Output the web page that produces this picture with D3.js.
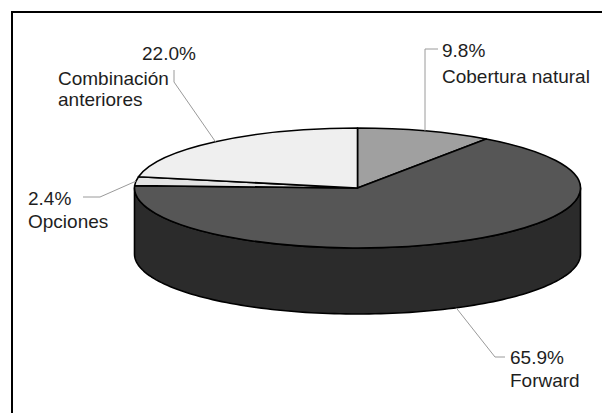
<!DOCTYPE html>
<html>
<head>
<meta charset="utf-8">
<script src="https://cdn.jsdelivr.net/npm/d3@7"></script>
<style>
  body { margin: 0; background: #fff; }
  svg { display: block; }
  text { font-family: "Liberation Sans", Arial, sans-serif; font-size: 19px; fill: #1e1e1e; }
</style>
</head>
<body>
<svg id="chart" width="602" height="413"></svg>
<script>
// Hedging instruments in use (share of firms, %)
const categories = ["Cobertura natural", "Forward", "Opciones", "Combinación anteriores"];
const shares = [9.8, 65.9, 2.4, 22.0];
const labelLines = [["Cobertura natural"], ["Forward"], ["Opciones"], ["Combinación", "anteriores"]];

// Palette: top faces and side walls
const topColor = d3.scaleOrdinal().domain(categories).range(["#a0a0a0", "#565656", "#e4e4e4", "#efefef"]);
const sideColor = d3.scaleOrdinal().domain(categories).range(["#6e6e6e", "#2b2b2b", "#a8a8a8", "#b4b4b4"]);

// Pie geometry (elliptical projection of a tilted disc)
const cx = 357.5, cy = 188, rx = 223, ry = 60, depth = 66;

const svg = d3.select("#chart");

// Frame
svg.append("rect")
  .attr("x", 12).attr("y", 12).attr("width", 620).attr("height", 430)
  .attr("fill", "#fff").attr("stroke", "#000").attr("stroke-width", 2);

const pie = d3.pie().sort(null).startAngle(0).endAngle(2 * Math.PI);
const arcs = pie(shares).map((d, i) => ({ ...d, name: categories[i], lines: labelLines[i] }));

// Point on the rim for angle a (0 = 12 o'clock, clockwise), shifted down by dy
const rim = (a, dy = 0) => [cx + rx * Math.sin(a), cy - ry * Math.cos(a) + dy];
const line = d3.line();

// Side walls: only the front half (angles between pi/2 and 3pi/2) is visible
const sideG = svg.append("g");
arcs.forEach(d => {
  const a1 = Math.max(d.startAngle, Math.PI / 2);
  const a2 = Math.min(d.endAngle, 3 * Math.PI / 2);
  if (a1 >= a2) return;
  const steps = d3.range(0, 1.0001, 1 / 120).map(t => a1 + (a2 - a1) * t);
  const top = steps.map(a => rim(a));
  const bottom = steps.slice().reverse().map(a => rim(a, depth));
  sideG.append("path")
    .attr("d", line(top.concat(bottom)) + "Z")
    .attr("fill", sideColor(d.name))
    .attr("stroke", "#000").attr("stroke-width", 1.6).attr("stroke-linejoin", "round");
});

// Top faces: circular arcs squashed into the ellipse
const arcGen = d3.arc().innerRadius(0).outerRadius(rx);
svg.append("g")
  .attr("transform", `translate(${cx},${cy}) scale(1,${ry / rx})`)
  .selectAll("path")
  .data(arcs)
  .join("path")
  .attr("d", arcGen)
  .attr("fill", d => topColor(d.name))
  .attr("stroke", "#000").attr("stroke-width", 1.6)
  .attr("stroke-linejoin", "round")
  .attr("vector-effect", "non-scaling-stroke");

// Labels with leader lines
const fmt = v => d3.format(".1f")(v) + "%";
const mid = d => (d.startAngle + d.endAngle) / 2;

const labelLayout = {
  "Cobertura natural": d => {
    const p = rim(mid(d));
    return { leader: [p, [p[0], 49], [438, 49]],
      texts: [[442, 57, fmt(d.data)], [442, 83, d.lines[0]]] };
  },
  "Forward": d => {
    const p = rim(mid(d), depth);
    return { leader: [p, [495, 357], [505, 357]],
      texts: [[510, 364, fmt(d.data)], [510, 387, d.lines[0]]] };
  },
  "Opciones": d => {
    const p = rim(mid(d));
    return { leader: [p, [100, 197], [83, 197]],
      texts: [[28, 205, fmt(d.data)], [28, 228, d.lines[0]]] };
  },
  "Combinación anteriores": d => {
    const p = rim(mid(d));
    return { leader: [p, [174, 82], [174, 70]],
      texts: [[142, 60, fmt(d.data)], [58, 85, d.lines[0]], [58, 106, d.lines[1]]] };
  }
};

const labG = svg.append("g");
arcs.forEach(d => {
  const L = labelLayout[d.name](d);
  labG.append("path")
    .attr("d", line(L.leader))
    .attr("fill", "none").attr("stroke", "#9a9a9a").attr("stroke-width", 1);
  L.texts.forEach(([x, y, s]) => {
    labG.append("text").attr("x", x).attr("y", y).text(s);
  });
});
</script>
</body>
</html>
